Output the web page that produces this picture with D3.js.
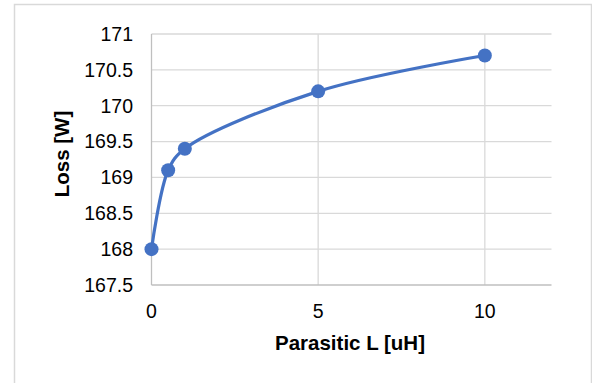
<!DOCTYPE html>
<html>
<head>
<meta charset="utf-8">
<script src="https://cdn.jsdelivr.net/npm/d3@7"></script>
<style>
  html, body { margin: 0; padding: 0; background: #fff; }
  svg { display: block; font-family: "Liberation Sans", Arial, sans-serif; }
</style>
</head>
<body>
<svg id="chart" width="592" height="383"></svg>
<script>
// data
const inductance = [0, 0.5, 1, 5, 10];
const loss = [168, 169.1, 169.4, 170.2, 170.7];
const xTicks = [0, 5, 10];
const yTicks = [167.5, 168, 168.5, 169, 169.5, 170, 170.5, 171];

const svg = d3.select("#chart");
const plot = { left: 151.5, right: 551.5, top: 34, bottom: 285 };

// outer chart border
svg.append("rect")
    .attr("x", 14.5).attr("y", 4.5)
    .attr("width", 577).attr("height", 400)
    .style("fill", "#fff").style("stroke", "#d9d9d9").style("stroke-width", 1.5);

const x = d3.scaleLinear().domain([0, 12]).range([plot.left, plot.right]);
const y = d3.scaleLinear().domain([167.5, 171]).range([plot.bottom, plot.top]);

// gridlines
svg.append("g").selectAll("line").data(yTicks.slice(1)).join("line")
    .attr("x1", plot.left).attr("x2", plot.right)
    .attr("y1", d => y(d)).attr("y2", d => y(d))
    .style("stroke", "#d9d9d9").style("stroke-width", 1.3);
svg.append("g").selectAll("line").data(xTicks.slice(1)).join("line")
    .attr("x1", d => x(d)).attr("x2", d => x(d))
    .attr("y1", plot.top).attr("y2", plot.bottom)
    .style("stroke", "#d9d9d9").style("stroke-width", 1.3);

// axis lines
svg.append("line")
    .attr("x1", plot.left).attr("x2", plot.left)
    .attr("y1", plot.top).attr("y2", plot.bottom)
    .style("stroke", "#bfbfbf").style("stroke-width", 1.3);
svg.append("line")
    .attr("x1", plot.left).attr("x2", plot.right)
    .attr("y1", plot.bottom).attr("y2", plot.bottom)
    .style("stroke", "#bfbfbf").style("stroke-width", 1.3);

// tick labels
svg.append("g").selectAll("text").data(yTicks).join("text")
    .attr("x", 133).attr("y", d => y(d))
    .attr("dy", "0.35em")
    .attr("text-anchor", "end")
    .style("font-size", "19.5px").style("fill", "#000")
    .text(d => d);
svg.append("g").selectAll("text").data(xTicks).join("text")
    .attr("x", d => x(d)).attr("y", 318)
    .attr("text-anchor", "middle")
    .style("font-size", "19.5px").style("fill", "#000")
    .text(d => d);

// axis titles
svg.append("text")
    .attr("x", 350).attr("y", 350)
    .attr("text-anchor", "middle")
    .style("font-size", "20.5px").style("font-weight", "bold")
    .text("Parasitic L [uH]");
svg.append("text")
    .attr("transform", "translate(69,154) rotate(-90)")
    .attr("text-anchor", "middle")
    .style("font-size", "20.5px").style("font-weight", "bold")
    .text("Loss [W]");

// series
const pts = inductance.map((v, i) => [x(v), y(loss[i])]);
svg.append("path")
    .attr("d", d3.line().curve(d3.curveCatmullRom.alpha(0.5))(pts))
    .style("fill", "none").style("stroke", "#4472c4").style("stroke-width", 3.2)
    .style("stroke-linecap", "round");
svg.append("g").selectAll("circle").data(pts).join("circle")
    .attr("cx", d => d[0]).attr("cy", d => d[1])
    .attr("r", 7)
    .style("fill", "#4472c4");
</script>
</body>
</html>
